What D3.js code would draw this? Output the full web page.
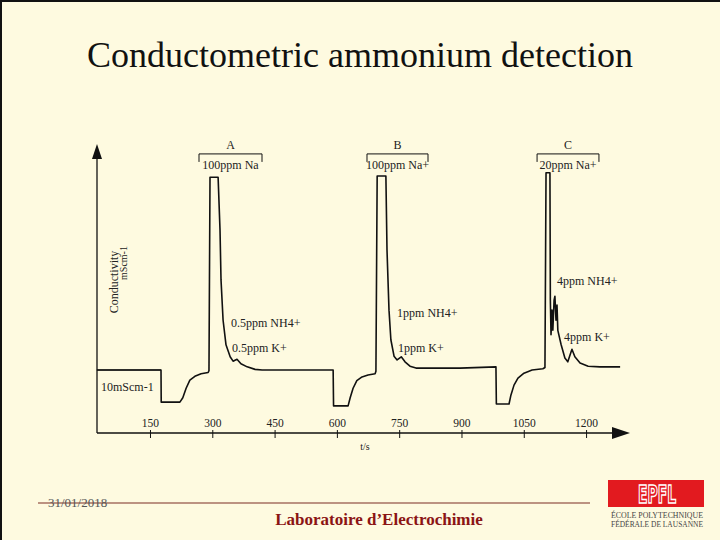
<!DOCTYPE html>
<html><head><meta charset="utf-8">
<script src="https://cdn.jsdelivr.net/npm/d3@7"></script>
<style>
html,body{margin:0;padding:0;background:#FEFAE0;}
svg{display:block;}
</style></head>
<body>
<svg id="c" width="720" height="540"></svg>
<script>
// ---- data ----
const timeS = [22,176.5,177,222,229,237,246,258,273,290,292,294.5,314,318.6,321,326,333,343,350,359.5,369,384,403,420,591,
  592,627,632,639,648,660.5,675,692,694,697,718,720.7,725.5,730,737.6,745,755,764,776,790.5,830,896.5,983,
  984,1014.5,1019,1026.5,1036,1050.5,1070,1096,1101,1103.6,1113,1114,1115.6,1118,1120,1123,1125,1127.6,1130,1132,1140,1149,1156,1166,1173,1185.5,1205,1233.6,1282];
const conductivity = [10.0,10.0,4.9,4.9,5.6,7.1,8.4,9.0,9.4,9.6,9.9,40.6,40.6,32.2,24.3,17.9,14.0,12.1,11.4,11.7,11.0,10.5,10.1,10.0,10.0,
  4.3,4.3,5.6,7.1,8.3,8.9,9.2,9.4,9.8,40.8,40.8,29.0,19.5,14.8,12.2,11.6,12.1,11.3,10.6,10.3,10.3,10.3,10.5,
  4.6,4.6,6.0,7.6,8.7,9.5,10.0,10.2,10.4,41.3,41.3,21.1,15.6,19.5,16.3,21.1,21.7,17.9,20.3,16.3,14.0,11.9,11.3,13.3,12.1,11.1,10.6,10.5,10.5];
const xTicks = [150,300,450,600,750,900,1050,1200];
const peakNames = ["A","B","C"];
const peakLabels = ["100ppm Na","100ppm Na+","20ppm Na+"];
const bracketStart = [268,672.5,1082];
const bracketEnd = [419.7,819.4,1231];
const annoText = ["0.5ppm NH4+","0.5ppm K+","1ppm NH4+","1ppm K+","4ppm NH4+","4ppm K+","10mScm-1"];
const annoTime = [345,347.5,745,747,1130,1147,32];
const annoValue = [16.8,12.9,18.4,12.9,23.5,14.6,6.7];
const title = "Conductometric ammonium detection";
const xLabel = "t/s";
const yLabel = "Conductivity";
const yUnit = "mScm-1";
const footerDate = "31/01/2018";
const footerLab = "Laboratoire d\u2019Electrochimie";

// ---- drawing ----
const svg = d3.select("#c");
svg.append("rect").attr("width",720).attr("height",540).attr("fill","#FEFAE0");
svg.append("line").attr("x1",0).attr("y1",1).attr("x2",720).attr("y2",1).attr("stroke","#111").attr("stroke-width",2);
svg.append("line").attr("x1",1).attr("y1",0).attr("x2",1).attr("y2",540).attr("stroke","#111").attr("stroke-width",2);

svg.append("text").attr("x",360).attr("y",67).attr("text-anchor","middle")
  .attr("font-family","'Liberation Serif','Times New Roman',serif").attr("font-size",36).attr("fill","#111").text(title);

const serif = "'Liberation Serif','Times New Roman',serif";
const x = d3.scaleLinear().domain([0,1300]).range([87.7,627.6]);
const y = d3.scaleLinear().domain([0,45]).range([433,149.5]);
const axisX0 = 97, axisY0 = 433;

// x axis
const gx = svg.append("g").attr("transform",`translate(0,${axisY0})`);
gx.append("line").attr("x1",axisX0).attr("x2",615).attr("stroke","#111").attr("stroke-width",1.3);
gx.append("path").attr("d",`M612,-6 L630,0 L612,6 Z`).attr("fill","#111");
const ax = d3.axisBottom(x).tickValues(xTicks).tickSize(0).tickFormat(d3.format("d"));
const axG = gx.append("g").call(ax);
axG.select(".domain").remove();
axG.selectAll(".tick line").attr("y1",-3).attr("y2",5).attr("stroke","#111");
axG.selectAll(".tick text").attr("y",-6).attr("dy",0).attr("font-family",serif).attr("font-size",11.5).attr("fill","#222");
svg.append("text").attr("x",365).attr("y",450).attr("text-anchor","middle").attr("font-family",serif).attr("font-size",10).attr("fill","#222").text(xLabel);

// y axis
svg.append("line").attr("x1",axisX0).attr("x2",axisX0).attr("y1",axisY0).attr("y2",156).attr("stroke","#111").attr("stroke-width",1.3);
svg.append("path").attr("d",`M${axisX0-5},159 L${axisX0},144 L${axisX0+5},159 Z`).attr("fill","#111");
svg.append("text").attr("transform","translate(118,282) rotate(-90)").attr("text-anchor","middle")
  .attr("font-family",serif).attr("font-size",12).attr("fill","#222").text(yLabel);
svg.append("text").attr("transform","translate(127,263) rotate(-90)").attr("text-anchor","middle")
  .attr("font-family",serif).attr("font-size",10).attr("fill","#222").text(yUnit);

// signal
const line = d3.line().x((d,i)=>x(timeS[i])).y((d,i)=>y(conductivity[i]));
svg.append("path").datum(conductivity).attr("d",line).attr("fill","none").attr("stroke","#111")
  .attr("stroke-width",1.6).attr("stroke-linejoin","round");

// brackets
peakNames.forEach((n,i)=>{
  const xa = x(bracketStart[i]), xb = x(bracketEnd[i]);
  const by = y(44.3);
  svg.append("path").attr("d",`M${xa},${by+8} L${xa},${by} L${xb},${by} L${xb},${by+8}`)
    .attr("fill","none").attr("stroke","#111").attr("stroke-width",1);
  svg.append("text").attr("x",(xa+xb)/2).attr("y",by-5).attr("text-anchor","middle")
    .attr("font-family",serif).attr("font-size",12).attr("fill","#222").text(n);
  svg.append("text").attr("x",(xa+xb)/2).attr("y",by+15).attr("text-anchor","middle")
    .attr("font-family",serif).attr("font-size",12).attr("fill","#222").text(peakLabels[i]);
});

// annotations
annoText.forEach((t,i)=>{
  svg.append("text").attr("x",x(annoTime[i])).attr("y",y(annoValue[i]))
    .attr("font-family",serif).attr("font-size",12).attr("fill","#222").text(t);
});
// 10mScm-1 reference line
svg.append("line").attr("x1",axisX0).attr("x2",x(176.5)).attr("y1",y(10)).attr("y2",y(10)).attr("stroke","#111").attr("stroke-width",1.2);

// footer
svg.append("line").attr("x1",38).attr("x2",590).attr("y1",503).attr("y2",503).attr("stroke","#7A2A22").attr("stroke-width",1.2);
svg.append("text").attr("x",48).attr("y",507).attr("font-family",serif).attr("font-size",13).attr("fill","#555").text(footerDate);
svg.append("text").attr("x",379).attr("y",525).attr("text-anchor","middle").attr("font-family",serif)
  .attr("font-weight","bold").attr("font-size",17).attr("fill","#8B1414").text(footerLab);

// EPFL logo
svg.append("rect").attr("x",608).attr("y",480).attr("width",96).attr("height",27).attr("fill","#E21A1F");
svg.append("text").attr("x",657).attr("y",503).attr("text-anchor","middle").attr("font-family","'DejaVu Sans Condensed','Liberation Sans Narrow',sans-serif")
  .attr("font-size",24).attr("font-weight","bold").attr("fill","#E21A1F").attr("stroke","#fff").attr("stroke-width",1.5)
  .attr("textLength",38).attr("lengthAdjust","spacingAndGlyphs").text("EPFL");
svg.append("text").attr("x",657).attr("y",518).attr("text-anchor","middle").attr("font-family",serif).attr("font-size",7.5).attr("fill","#444")
  .attr("textLength",92).attr("lengthAdjust","spacingAndGlyphs").text("ÉCOLE POLYTECHNIQUE");
svg.append("text").attr("x",657).attr("y",527).attr("text-anchor","middle").attr("font-family",serif).attr("font-size",7.5).attr("fill","#444")
  .attr("textLength",92).attr("lengthAdjust","spacingAndGlyphs").text("FÉDÉRALE DE LAUSANNE");
</script>
</body></html>
